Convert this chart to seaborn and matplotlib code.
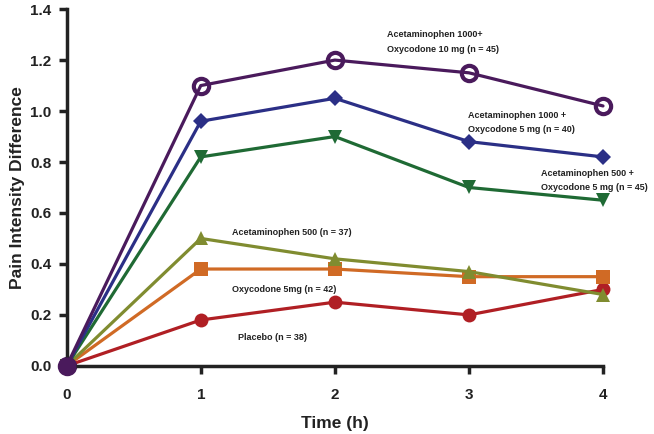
import pandas as pd
import seaborn as sns
import matplotlib.pyplot as plt

hours = [0, 1, 2, 3, 4]
groups = [
    "Acetaminophen 1000 + Oxycodone 10 mg",
    "Acetaminophen 1000 + Oxycodone 5 mg",
    "Acetaminophen 500 + Oxycodone 5 mg",
    "Acetaminophen 500",
    "Oxycodone 5mg",
    "Placebo",
]
apap1000_oxy10 = [0.0, 1.10, 1.20, 1.15, 1.02]
apap1000_oxy5 = [0.0, 0.96, 1.05, 0.88, 0.82]
apap500_oxy5 = [0.0, 0.82, 0.90, 0.70, 0.65]
apap500 = [0.0, 0.50, 0.42, 0.37, 0.28]
oxy5 = [0.0, 0.38, 0.38, 0.35, 0.35]
placebo = [0.0, 0.18, 0.25, 0.20, 0.30]

colors = ["#4a1a5c", "#2b2f86", "#1f6a34", "#808c30", "#d06a25", "#b01f24"]
markers = ["o", "D", "v", "^", "s", "o"]
sizes = [11, 8, 10, 10, 10, 10]

rows = []
for g, vals in zip(groups, [apap1000_oxy10, apap1000_oxy5, apap500_oxy5, apap500, oxy5, placebo]):
    for h, v in zip(hours, vals):
        rows.append({"hour": h, "pid": v, "group": g})
df = pd.DataFrame(rows)

sns.set_style("ticks")
plt.rcParams['font.family'] = ['Liberation Sans', 'DejaVu Sans']

fig = plt.figure(figsize=(6.54, 4.34), dpi=100)
ax = fig.add_axes([0.102, 0.157, 0.82, 0.822])

# draw bottom series first so the purple sits on top
for g, c, m, s in reversed(list(zip(groups, colors, markers, sizes))):
    sub = df[df["group"] == g]
    kw = dict(markersize=s, markeredgewidth=0, markeredgecolor=c)
    if g == groups[0]:
        kw = dict(markersize=s, markerfacecolor="none", markeredgecolor=c, markeredgewidth=3)
    sns.lineplot(data=sub, x="hour", y="pid", color=c, marker=m, lw=2.3,
                 ax=ax, clip_on=False, **kw)

# first point of the purple series looks filled since everything overlaps there
ax.plot([hours[0]], [apap1000_oxy10[0]], "o", color=colors[0], ms=12, clip_on=False, zorder=5)

ax.set_xlim(0, 4)
ax.set_ylim(0, 1.4)
ax.set_xticks(hours)
ax.set_yticks([0, 0.2, 0.4, 0.6, 0.8, 1.0, 1.2, 1.4])
ax.set_yticklabels(["0.0", "0.2", "0.4", "0.6", "0.8", "1.0", "1.2", "1.4"])
for s in ["top", "right"]:
    ax.spines[s].set_visible(False)
for s in ["left", "bottom"]:
    ax.spines[s].set_linewidth(2.5)
    ax.spines[s].set_color("#222222")
ax.tick_params(length=6, width=2.5, color="#222222", labelsize=11, pad=5)
ax.tick_params(axis="x", pad=10)
for lab in ax.get_xticklabels() + ax.get_yticklabels():
    lab.set_fontweight("bold")
    lab.set_color("#222222")

ax.set_xlabel("Time (h)", fontsize=12.5, fontweight="bold", color="#222222", labelpad=10)
ax.set_ylabel("Pain Intensity Difference", fontsize=12.5, fontweight="bold", color="#222222", labelpad=4)

txt = dict(fontsize=6.5, fontweight="bold", color="#222222", va="center", ha="left")
ax.text(2.39, 1.27, "Acetaminophen 1000+\nOxycodone 10 mg (n = 45)", linespacing=1.8, **txt)
ax.text(2.99, 0.955, "Acetaminophen 1000 +\nOxycodone 5 mg (n = 40)", linespacing=1.8, **txt)
ax.text(3.54, 0.728, "Acetaminophen 500 +\nOxycodone 5 mg (n = 45)", linespacing=1.8, **txt)
ax.text(1.23, 0.525, "Acetaminophen 500 (n = 37)", **txt)
ax.text(1.23, 0.30, "Oxycodone 5mg (n = 42)", **txt)
ax.text(1.28, 0.11, "Placebo (n = 38)", **txt)

fig.savefig("out.png", dpi=100)
